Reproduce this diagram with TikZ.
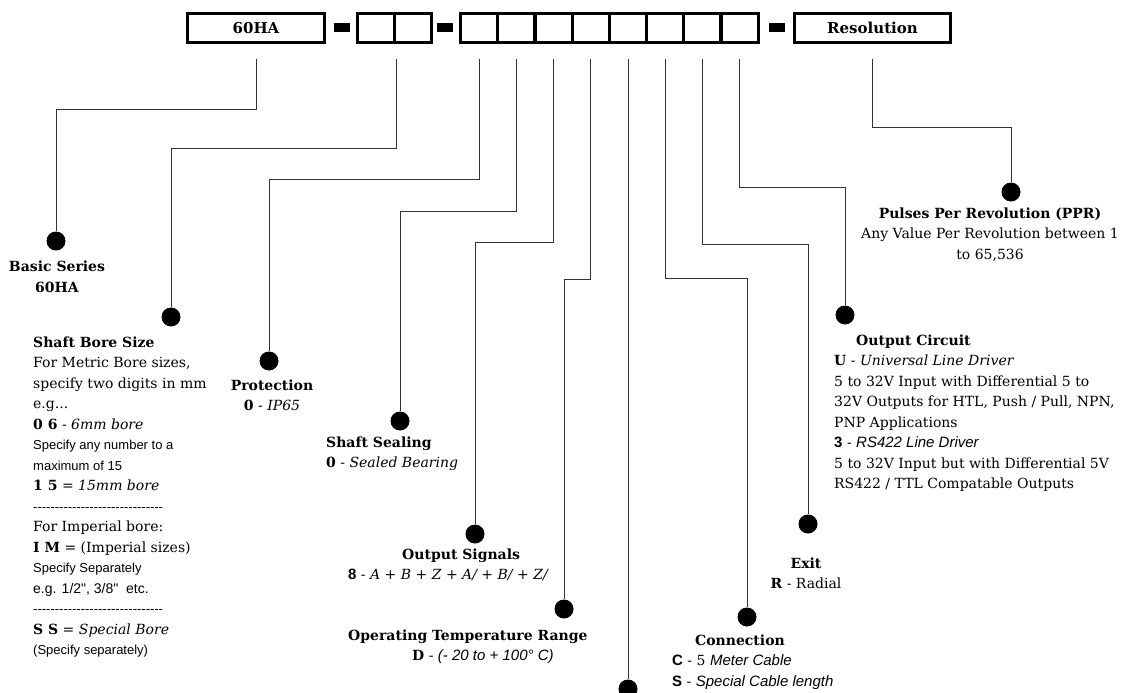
\documentclass[tikz,border=0pt]{standalone}
\usepackage{fontspec}
\setmainfont{DejaVu Serif}
\newfontfamily\arial{Liberation Sans}
\usepackage{tikz}

\newcommand{\txt}{\fontsize{14}{20.5}\selectfont}
\newcommand{\sml}{\arial\fontsize{13}{20.5}\selectfont}
\newcommand{\ari}{\arial\fontsize{15}{20.5}\selectfont}
\newcommand{\dashrow}{{\sml\foreach \k in {1,...,30}{-}}}

\tikzset{
  cell/.style={draw, line width=3.2pt, inner sep=0pt, minimum height=29pt, minimum width=37.2pt,
    font=\bfseries\fontsize{15}{18}\selectfont},
  dashbar/.style={fill=black, inner sep=0pt, minimum width=16pt, minimum height=9.5pt},
  dot/.style={circle, fill=black, inner sep=0pt, minimum size=19pt},
  lead/.style={draw=black!80, line width=0.9pt},
  info/.style={inner sep=0pt, font=\txt},
}

\begin{document}
\begin{tikzpicture}[x=1pt, y=-1pt]
        \useasboundingbox (0,0) rectangle (1128,693);
        % order code boxes
        \node[cell, minimum width=137pt] (series) at (256,28) {60HA};
        \node[dashbar] (m1) at (341.5,27.5) {};
        \node[cell, minimum width=37pt] (b1) at (376,28) {};
        \node[cell, minimum width=37pt] (b2) at (413,28) {};
        \node[dashbar] (m2) at (445,27.5) {};
        \foreach \i in {1,...,8}
            \node[cell] (c\i) at ({479.2+37.2*(\i-1)},28) {};
        \node[dashbar] (m3) at (776.7,27.5) {};
        \node[cell, minimum width=156pt] (res) at (872.5,28) {Resolution};
        % end dots
        \node[dot] (d1) at (56,241) {};
        \node[dot] (d2) at (171,317) {};
        \node[dot] (d3) at (269,361) {};
        \node[dot] (d4) at (400,421) {};
        \node[dot] (d5) at (475,534) {};
        \node[dot] (d6) at (564,609) {};
        \node[dot] (d7) at (c5 |- 0,689) {};
        \node[dot] (d8) at (747,617) {};
        \node[dot] (d9) at (808,524) {};
        \node[dot] (d10) at (845,315) {};
        \node[dot] (d11) at (1011,192) {};
        % leader lines
        \draw[lead] ([yshift=-15pt]series.south) -- ++(0,50) -| (d1);
        \draw[lead] ([yshift=-15pt]b1.south east) -- ++(0,89) -| (d2);
        \draw[lead] ([yshift=-15pt]c1.south) -- ++(0,120) -| (d3);
        \draw[lead] ([yshift=-15pt]c2.south) -- ++(0,152) -| (d4);
        \draw[lead] ([yshift=-15pt]c3.south) -- ++(0,183) -| (d5);
        \draw[lead] ([yshift=-15pt]c4.south) -- ++(0,220) -| (d6);
        \draw[lead] ([yshift=-15pt]c5.south) -- (d7);
        \draw[lead] ([yshift=-15pt]c6.south) -- ++(0,219) -| (d8);
        \draw[lead] ([yshift=-15pt]c7.south) -- ++(0,185) -| (d9);
        \draw[lead] ([yshift=-15pt]c8.south) -- ++(0,128) -| (d10);
        \draw[lead] ([yshift=-15pt]res.south) -- ++(0,68) -| (d11);
        % descriptions (anchored on the last line)
        \node[info, anchor=base, align=center] (basic) at (57,292)
            {\textbf{Basic Series}\\\textbf{60HA}};
        \node[info, anchor=base west, align=left] (bore) at (33,654.5)
            {\textbf{Shaft Bore Size}\\
             For Metric Bore sizes,\\
             specify two digits in mm\\
             e.g...\\
             \textbf{0 6} - \textit{6mm bore}\\
             {\sml Specify any number to a}\\
             {\sml maximum of 15}\\
             \textbf{1 5} = \textit{15mm bore}\\
             \dashrow\\
             For Imperial bore:\\
             \textbf{I M} = (Imperial sizes)\\
             {\sml Specify Separately}\\
             {\arial e.g. 1/2", 3/8"\ \ etc.}\\
             \dashrow\\
             \textbf{S S} = \textit{Special Bore}\\
             {\sml (Specify separately)}};
        \node[info, anchor=base, align=center] (prot) at (272,410.5)
            {\textbf{Protection}\\\textbf{0} - \textit{IP65}};
        \node[info, anchor=base west, align=left] (seal) at (326,467.5)
            {\textbf{Shaft Sealing}\\\textbf{0} - \textit{Sealed Bearing}};
        \node[info, anchor=base west, align=left] (sig) at (348,579.5)
            {\hspace*{54pt}\textbf{Output Signals}\\
             {\ari\bfseries 8} - \textit{A + B + Z + A/ + B/ + Z/}};
        \node[info, anchor=base west, align=left] (temp) at (348,660.5)
            {\textbf{Operating Temperature Range}\\
             \hspace*{64pt}\textbf{D} - {\ari\itshape (- 20 to + 100° C)}};
        \node[info, anchor=base west, align=left] (conn) at (672,686)
            {\hspace*{23pt}\textbf{Connection}\\
             {\ari\bfseries C} - 5 {\ari\itshape Meter Cable}\\
             {\ari\bfseries S} - {\ari\itshape Special Cable length}};
        \node[info, anchor=base, align=center] (exit) at (806,588.5)
            {\textbf{Exit}\\\textbf{R} - Radial};
        \node[info, anchor=base west, align=left] (circ) at (834,488.5)
            {\hspace*{22pt}\textbf{Output Circuit}\\
             \textbf{U} - \textit{Universal Line Driver}\\
             5 to 32V Input with Differential 5 to\\
             32V Outputs for HTL, Push / Pull, NPN,\\
             PNP Applications\\
             {\ari\bfseries 3} - {\ari\itshape RS422 Line Driver}\\
             5 to 32V Input but with Differential 5V\\
             RS422 / TTL Compatable Outputs};
        \node[info, anchor=base, align=center] (ppr) at (990,259)
            {\textbf{Pulses Per Revolution (PPR)}\\
             Any Value Per Revolution between 1\\
             to 65,536};
    \end{tikzpicture}
\end{document}
